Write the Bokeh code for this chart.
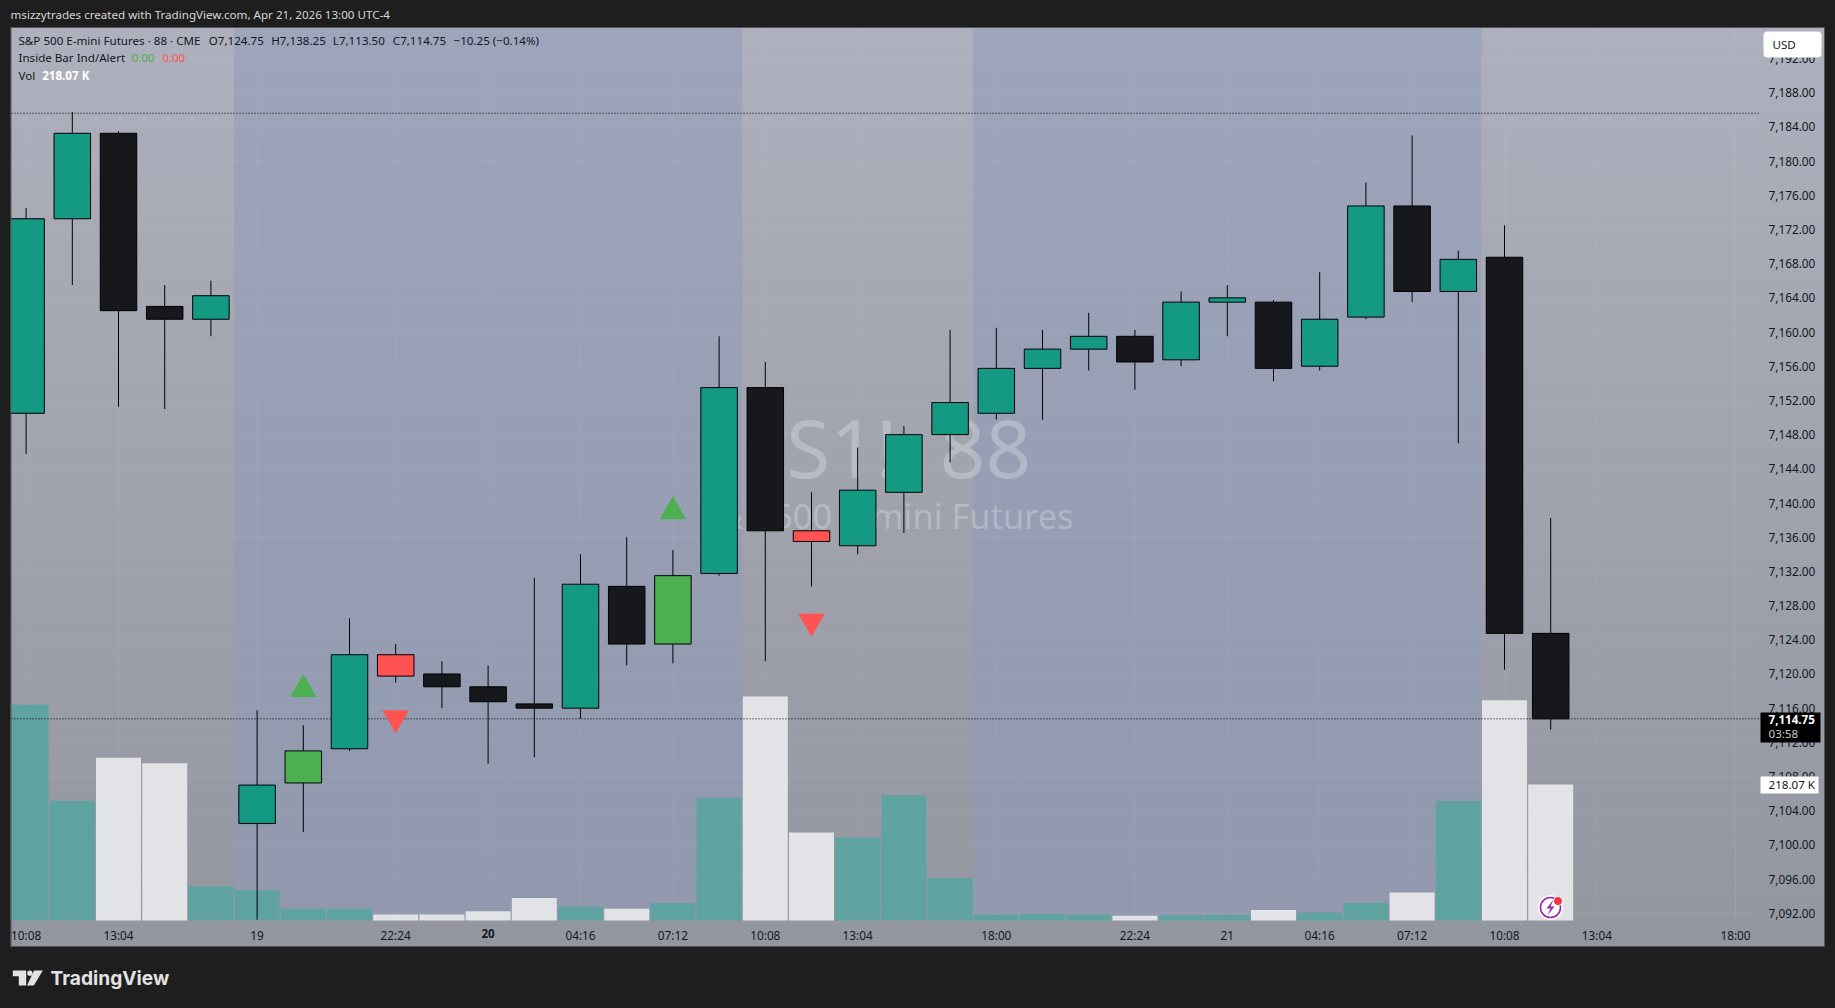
from bokeh.plotting import figure
from bokeh.embed import file_html
from bokeh.resources import INLINE
from bokeh.models import (Range1d, LinearAxis, FixedTicker, NumeralTickFormatter, Label,
                          BoxAnnotation, PolyAnnotation)
from bokeh.core.properties import value

opens = [7150.5,7173.25,7183.25,7163,7161.5,7102.5,7107.25,7111.25,7122.25,7120,7118.5,7116.5,7116,7130.25,7123.5,7131.75,7153.5,7136.75,7135,7141.25,7148,7150.5,7155.75,7158,7159.5,7156.75,7163.5,7163.5,7156,7161.75,7174.75,7164.75,7168.75,7124.75]
highs = [7174.5,7185.75,7183.5,7165.5,7166,7115.75,7114,7126.5,7123.5,7121.5,7121,7131.25,7134,7136,7134.5,7159.5,7156.5,7141.25,7146.5,7149,7160.25,7160.5,7160.25,7162.25,7160.25,7164.75,7165.5,7163.75,7167,7177.5,7183,7169.5,7172.5,7138.25]
lows = [7145.75,7165.5,7151.25,7151,7159.5,7091.25,7101.5,7111,7119,7116,7109.5,7110.25,7114.75,7121,7121.25,7131.5,7121.5,7130.25,7134,7136.5,7144.75,7149.75,7149.75,7155.5,7153.25,7156,7159.5,7154.25,7155.5,7161.5,7163.5,7147,7120.5,7113.5]
closes = [7173.25,7183.25,7162.5,7161.5,7164.25,7107,7111,7122.25,7119.75,7118.5,7116.75,7116,7130.5,7123.5,7131.5,7153.5,7136.75,7135.5,7141.5,7148,7151.75,7155.75,7158,7159.5,7156.5,7163.5,7164,7155.75,7161.5,7174.75,7164.75,7168.5,7124.75,7114.75]
volumes = [346,192,261,252,54.5,49,19,19,9.5,9.5,15,36,22.5,19,28,197,359,141,133,201,68,9.5,11,9.5,7.5,8,9,17,13,28,45,192,353,218.07]
inside_up_bars = [6,14]
inside_down_bars = [8,17]
up_marker_prices = [7118.2,7139.0]
down_marker_prices = [7114.85,7126.15]
session_starts = [4.5,20.5]
session_ends = [15.5,31.5]
last_close = 7114.75
prior_high = 7185.6
y_ticks = [7092,7096,7100,7104,7108,7112,7116,7120,7124,7128,7132,7136,7140,7144,7148,7152,7156,7160,7164,7168,7172,7176,7180,7184,7188,7192]
x_tick_bars = [0,2,5,8,10,12,14,16,18,21,24,26,28,30,32,34,37]
x_tick_labels = ["10:08","13:04","19","22:24"," ","04:16","07:12","10:08","13:04","18:00","22:24","21","04:16","07:12","10:08","13:04","18:00"]

# pixel geometry of the page (reference pixels)
W, H = 1835, 1008
PX0, PXS = 25.6, 46.2
PY0, PYS = 92.2, 8.548
L, R, T, B = 11, 1758, 28, 920
def xd(px): return (px - PX0) / PXS
def yd(py): return 7188 - (py - PY0) / PYS

FONT = "Noto Sans"
INK = "#131722"
n = len(opens)
xs = list(range(n))

p = figure(width=W, height=H, output_backend="svg", toolbar_location=None,
           x_range=Range1d(xd(0), xd(W)), y_range=Range1d(yd(H), yd(0)),
           min_border=0, x_axis_location=None, y_axis_location=None)
p.border_fill_alpha = 0
p.background_fill_alpha = 0
p.outline_line_alpha = 0
p.grid.visible = False
p.styles = {
    "background": "linear-gradient(#aeb1bd,#93969f) 11px 28px/1813px 918px no-repeat,"
                  "linear-gradient(#555,#555) 10px 27px/1815px 920px no-repeat,#1e1e1e",
}

# axes
yaxis = LinearAxis(fixed_location=xd(R), ticker=FixedTicker(ticks=y_ticks), formatter=NumeralTickFormatter(format="0,0.00"))
xaxis = LinearAxis(fixed_location=yd(B), ticker=FixedTicker(ticks=x_tick_bars),
                   major_label_overrides=dict(zip(x_tick_bars, x_tick_labels)))
for ax in (xaxis, yaxis):
    ax.axis_line_color = None
    ax.major_tick_line_color = None
    ax.minor_tick_line_color = None
    ax.major_label_text_color = INK
    ax.major_label_text_font = FONT
    ax.major_label_text_font_size = "11.8px"
yaxis.major_label_standoff = 4
xaxis.major_label_standoff = 0
p.add_layout(yaxis, "right")
p.add_layout(xaxis, "below")

# sessions
p.quad(left=session_starts, right=session_ends, top=[yd(T)]*2, bottom=[yd(B)]*2,
       fill_color="#8f9bba", fill_alpha=0.55, line_color=None, level="underlay")

# grid
p.segment(x0=[xd(L)]*len(y_ticks), x1=[xd(R)]*len(y_ticks), y0=y_ticks, y1=y_ticks,
          line_color="#ffffff", line_alpha=0.06, line_width=1, level="underlay")
p.segment(x0=x_tick_bars, x1=x_tick_bars, y0=[yd(T)]*len(x_tick_bars), y1=[yd(B)]*len(x_tick_bars),
          line_color="#ffffff", line_alpha=0.06, line_width=1, level="underlay")

# watermark
p.text(x=[xd(886)], y=[yd(446)], text=["ES1!, 88"], text_font=value(FONT), text_font_size="80px",
       text_color="#ffffff", text_alpha=0.25, text_align="center", text_baseline="middle", level="underlay")
p.text(x=[xd(886)], y=[yd(515)], text=["S&P 500 E-mini Futures"], text_font=value(FONT), text_font_size="34.4px",
       text_color="#ffffff", text_alpha=0.25, text_align="center", text_baseline="middle", level="underlay")

# volume
p.extra_y_ranges = {"vol": Range1d(-(H - B) * 218.07 / 136, B * 218.07 / 136)}
vol_colors = ["#5fa3a0" if c >= o else "#e2e3e6" for o, c in zip(opens, closes)]
p.vbar(x=xs, top=volumes, bottom=0, width=45/PXS, y_range_name="vol",
       fill_color=vol_colors, line_color=None)

# price lines
for level_price in (prior_high, last_close):
    p.segment(x0=[xd(L)], x1=[xd(R)], y0=[level_price], y1=[level_price], line_color="#000000", line_dash="1 2", line_width=1)

# candles
def body_color(i):
    if i in inside_up_bars: return "#4caf50"
    if i in inside_down_bars: return "#ff5252"
    return "#149a83" if closes[i] >= opens[i] else "#16181b"
p.segment(x0=xs, x1=xs, y0=lows, y1=highs, line_color="#000000", line_width=1)
p.vbar(x=xs, top=[max(a, b) for a, b in zip(opens, closes)], bottom=[min(a, b) for a, b in zip(opens, closes)],
       width=36.5/PXS, fill_color=[body_color(i) for i in xs], line_color="#000000", line_width=1)

# inside bar markers
p.scatter(x=inside_up_bars, y=up_marker_prices, marker="triangle", size=26.5, fill_color="#4caf50", line_color=None)
p.scatter(x=inside_down_bars, y=down_marker_prices, marker="inverted_triangle", size=26.5, fill_color="#ff5252", line_color=None)

# alert icon
p.scatter(x=[xd(1550)], y=[yd(907)], marker="circle", size=25, fill_color="#ffffff", line_color=None)
p.scatter(x=[xd(1550)], y=[yd(907)], marker="circle", size=20, fill_color="#ffffff", line_color="#9c27b0", line_width=1.6)
bx = [1553, 1546, 1550, 1547, 1554, 1550]
by = [899, 908, 908, 915, 906, 906]
p.patch(x=[xd(v) for v in bx], y=[yd(v) for v in by], fill_color="#9c27b0", line_color=None)
p.scatter(x=[xd(1557.5)], y=[yd(900.5)], marker="circle", size=9, fill_color="#f23645", line_color="#ffffff", line_width=1)

# overlays
def box(l, r, t, b, color, radius=0):
    p.add_layout(BoxAnnotation(left=xd(l), right=xd(r), top=yd(t), bottom=yd(b), fill_color=color, fill_alpha=1,
                               line_color=None, border_radius=radius, level="annotation"))
def txt(px, py, s, color=INK, size="11.6px", style="normal", font=FONT, align="left"):
    p.add_layout(Label(x=xd(px), y=yd(py - 1.5), text=s, text_color=color, text_font=font, text_font_size=size,
                       text_font_style=style, text_baseline="middle", text_align=align, level="annotation"))

box(0, 10, 27, 947, "#1e1e1e")
box(10, 11, 27, 947, "#555555")

box(1763, 1821, 31, 57, "#ffffff", 4)
txt(1772, 45, "USD")
box(1760, 1820, 712, 742, "#000000")
txt(1768, 720, "7,114.75", color="#ffffff", style="bold")
txt(1768, 734, "03:58", color="#c8c8c8")
box(1760, 1818, 776, 793, "#ffffff")
txt(1768, 785, "218.07 K")
txt(PX0 + 10 * PXS, 934, "20", style="bold", align="center")

# header
txt(10, 15, "msizzytrades created with TradingView.com, Apr 21, 2026 13:00 UTC-4", color="#d6d6d6")
txt(18, 41.5, "S&P 500 E-mini Futures · 88 · CME")
txt(208.3, 41.5, "O7,124.75")
txt(270.7, 41.5, "H7,138.25")
txt(332.3, 41.5, "L7,113.50")
txt(392.3, 41.5, "C7,114.75")
txt(453, 41.5, "−10.25 (−0.14%)")
txt(18, 58.5, "Inside Bar Ind/Alert")
txt(131, 58.5, "0.00", color="#4caf50")
txt(161.7, 58.5, "0.00", color="#ff5252")
txt(18, 76, "Vol")
txt(41.7, 76, "218.07 K", color="#ffffff", style="bold")

# footer logo
def poly(px, py, color="#e2e2e2"):
    p.add_layout(PolyAnnotation(xs=[xd(v) for v in px], ys=[yd(v) for v in py], fill_color=color, fill_alpha=1,
                                line_color=None, level="annotation"))
poly([12.3, 25.7, 25.7, 18.3, 18.3, 12.3], [970, 970, 985, 985, 975.7, 975.7])
poly([33.5, 42.3, 33.3, 26.5], [970, 970, 985, 985])
box(26.7, 32, 970, 975.3, "#e2e2e2", 3)
txt(50, 979, "TradingView", color="#e2e2e2", size="19.2px", style="bold", font="Inter")

open("out.html", "w").write(file_html(p, INLINE))
